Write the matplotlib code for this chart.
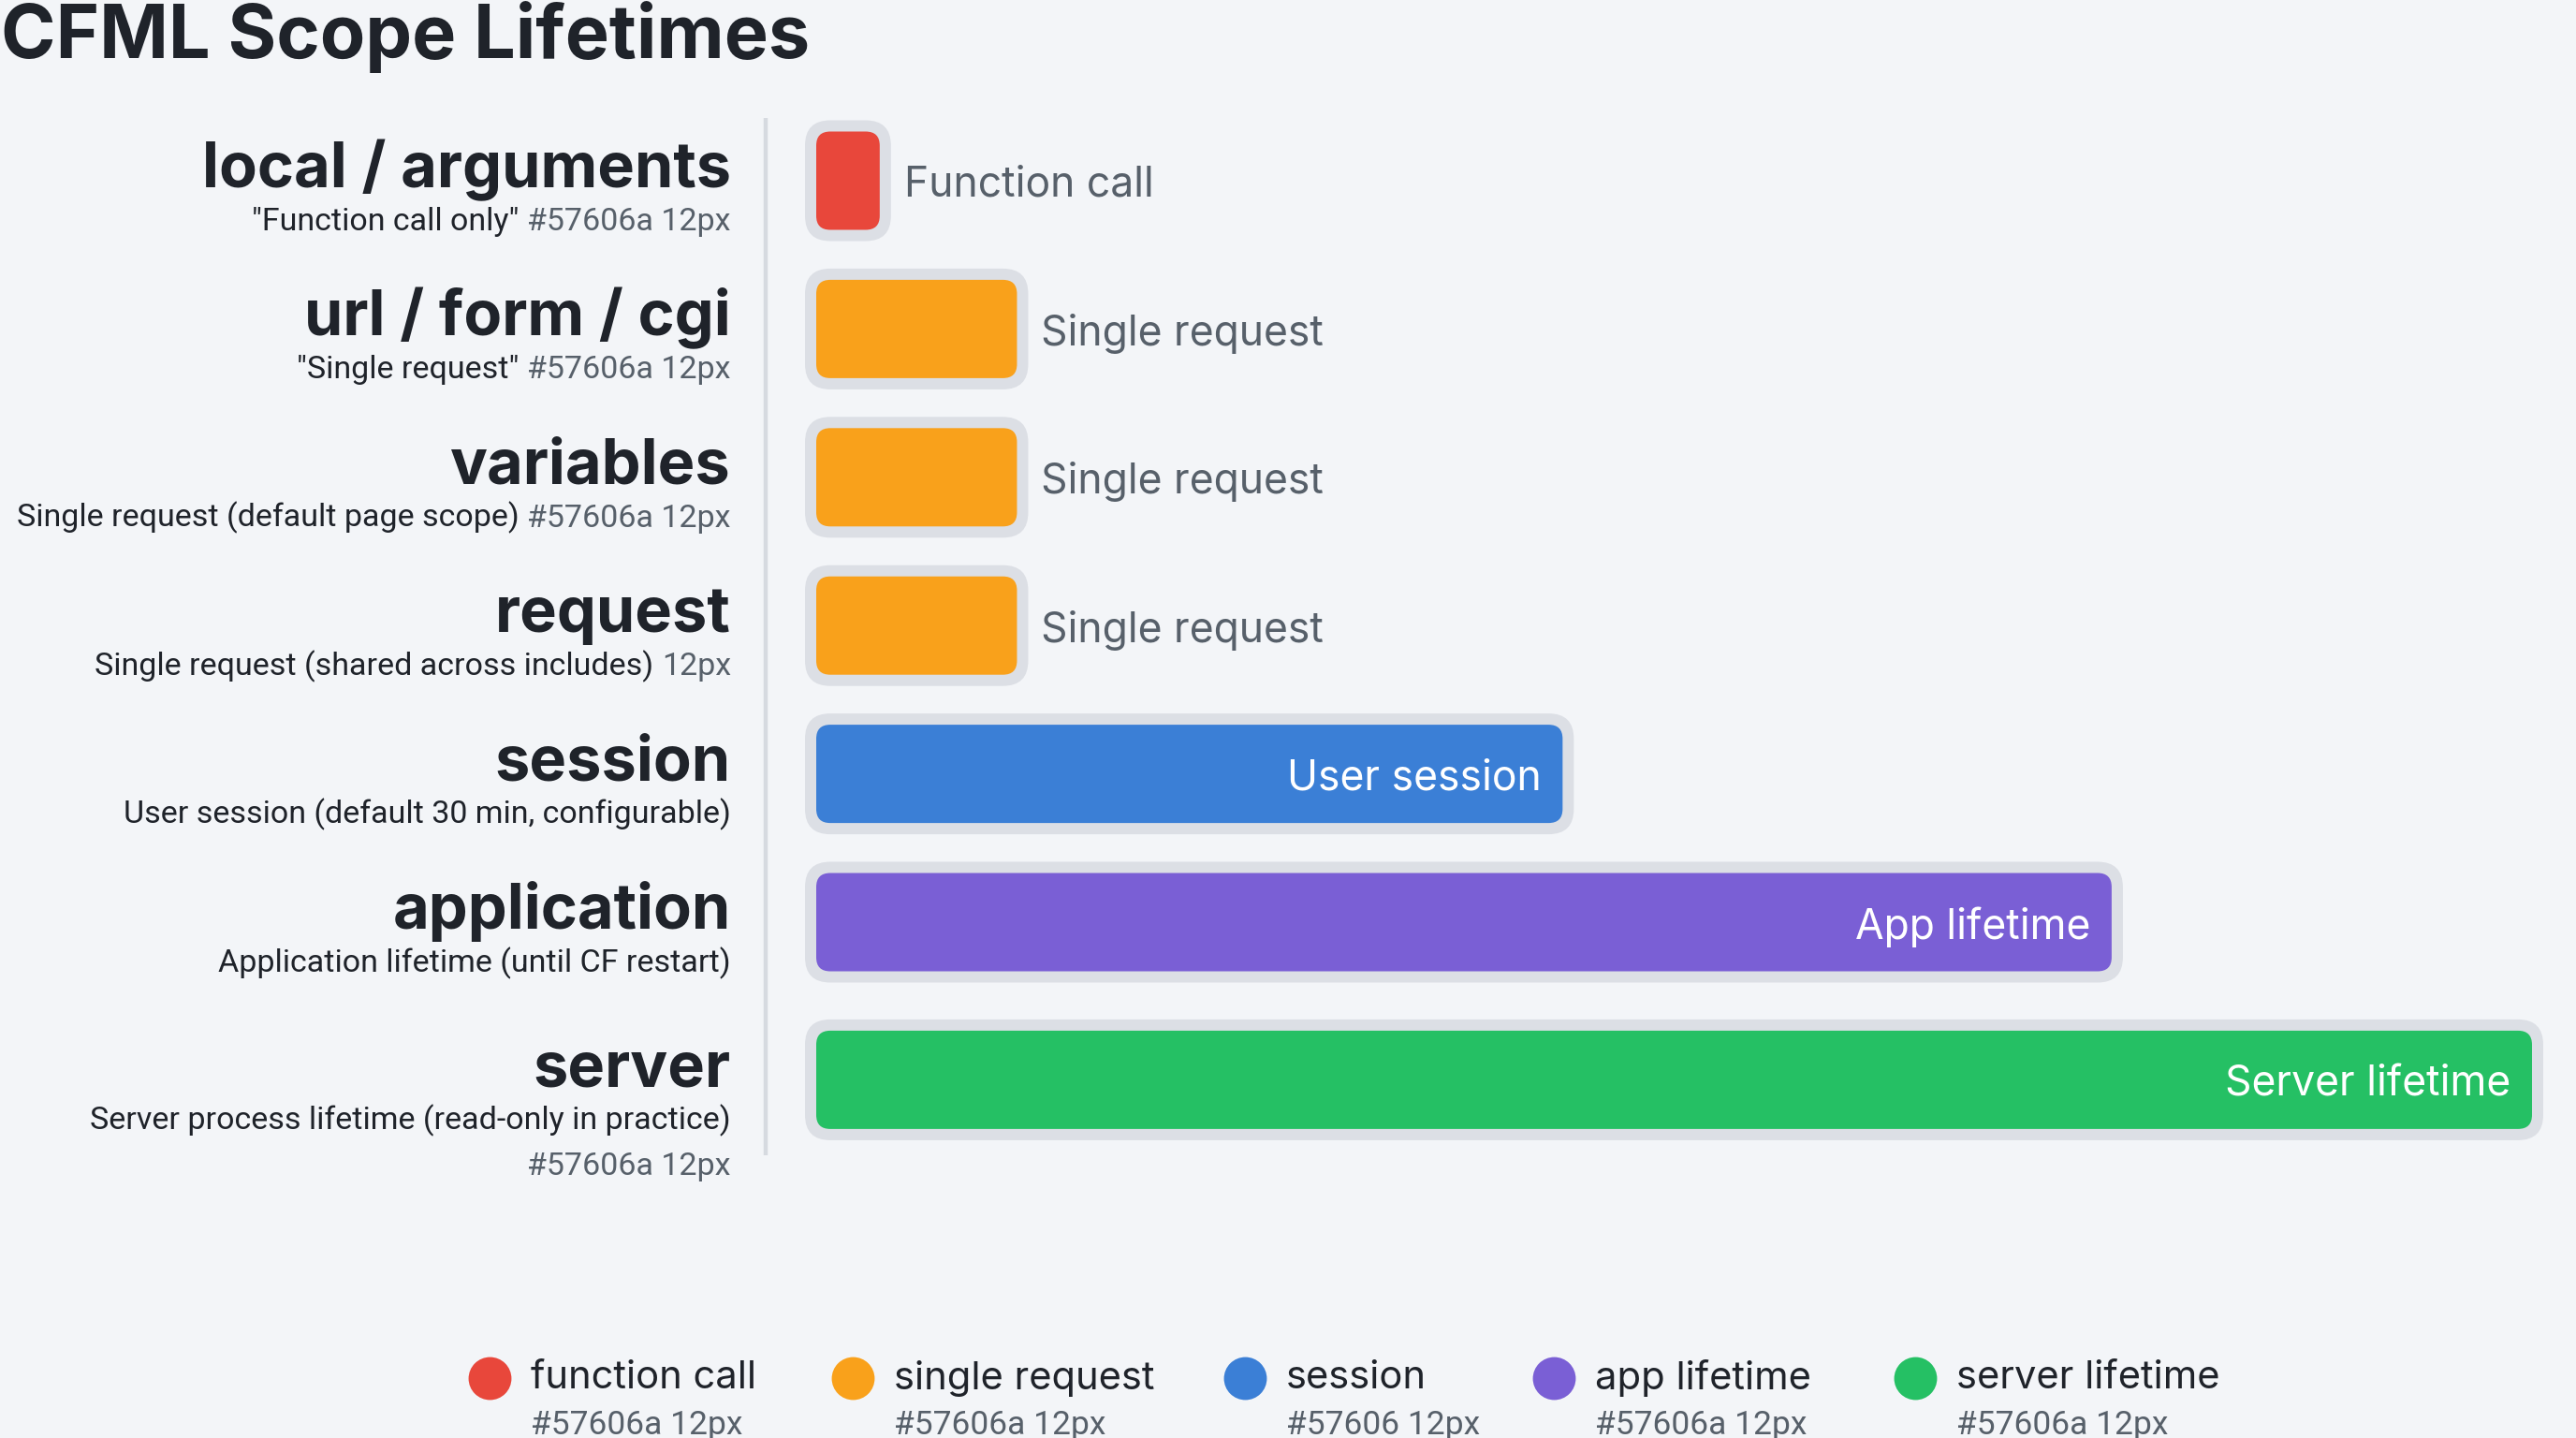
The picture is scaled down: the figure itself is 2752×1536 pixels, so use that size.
"""
CFML scope lifetimes: one rounded horizontal bar per scope, relative lifetime.
Saves to ./out.png
"""
import numpy as np
import matplotlib
matplotlib.use("Agg")
import matplotlib.pyplot as plt
from matplotlib.patches import FancyBboxPatch
from matplotlib.lines import Line2D
from matplotlib.transforms import blended_transform_factory, offset_copy

# ---- data -------------------------------------------------------------
SCOPES = ["local / arguments", "url / form / cgi", "variables", "request",
          "session", "application", "server"]
SCOPE_NOTES = ['"Function call only"', '"Single request"',
               "Single request (default page scope)",
               "Single request (shared across includes)",
               "User session (default 30 min, configurable)",
               "Application lifetime (until CF restart)",
               "Server process lifetime (read-only in practice)"]
NOTE_TAGS = ["#57606a 12px", "#57606a 12px", "#57606a 12px", "12px",
             "", "", "\n#57606a 12px"]
LIFETIME = [3.7, 11.7, 11.7, 11.7, 43.5, 75.5, 100.0]   # relative, 0-100
BAR_LABELS = ["Function call", "Single request", "Single request",
              "Single request", "User session", "App lifetime",
              "Server lifetime"]
KINDS = ["function call", "single request", "single request",
         "single request", "session", "app lifetime", "server lifetime"]

LEGEND_LABELS = ["function call", "single request", "session",
                 "app lifetime", "server lifetime"]
LEGEND_TAGS = ["#57606a 12px", "#57606a 12px", "#57606 12px",
               "#57606a 12px", "#57606a 12px"]
KIND_COLORS = {
    "function call":   "#E8473B",
    "single request":  "#F9A11B",
    "session":         "#3B7FD6",
    "app lifetime":    "#7A5FD5",
    "server lifetime": "#25C064",
}

# ---- style ------------------------------------------------------------
BG = "#F3F5F8"
BORDER = "#DCDFE5"
DARK = "#1F232A"
GRAY = "#57606a"
BOLD_FONT = ["Inter", "DejaVu Sans"]
REG_FONT = ["Inter", "DejaVu Sans"]
NARROW_FONT = ["Roboto", "DejaVu Sans"]
NOTE_SIZE = 24.5

W, H, DPI = 2752, 1536, 100
ROW_STEP = 158.4            # px between rows
BAR_H_PX = 105
PAD_PX = 12
R_IN_PX, R_OUT_PX = 15, 27


def main():
    fig = plt.figure(figsize=(W / DPI, H / DPI), dpi=DPI, facecolor=BG)

    n = len(SCOPES)
    ypos = np.arange(n, dtype=float)
    ypos[-1] += 10 / ROW_STEP          # server row sits a bit lower

    # axes: x=0 at 872px, x=100 at 2705px; row 0 centred at 193px
    top_px = 193 - 0.5 * ROW_STEP
    height_px = (ypos[-1] + 1) * ROW_STEP
    ax = fig.add_axes([872 / W, 1 - (top_px + height_px) / H,
                       (2705 - 872) / W, height_px / H])
    ax.set_xlim(0, 100)
    ax.set_ylim(ypos[-1] + 0.5, -0.5)
    ax.axis("off")

    px_x = (2705 - 872) / 100.0        # px per x unit
    px_y = ROW_STEP                    # px per y unit
    aspect = px_x / px_y
    colors = [KIND_COLORS[k] for k in KINDS]

    bars = ax.barh(ypos, LIFETIME, height=BAR_H_PX / px_y, color=colors)
    for bar, col in zip(bars, colors):
        x0, y0 = bar.get_x(), bar.get_y()
        w, h = bar.get_width(), bar.get_height()
        bar.set_visible(False)
        px, py = PAD_PX / px_x, PAD_PX / px_y
        ax.add_patch(FancyBboxPatch(
            (x0 - px, y0 - py), w + 2 * px, h + 2 * py,
            boxstyle=f"round,pad=0,rounding_size={R_OUT_PX / px_x}",
            mutation_aspect=aspect, fc=BORDER, ec="none",
            clip_on=False, zorder=1))
        ax.add_patch(FancyBboxPatch(
            (x0, y0), w, h,
            boxstyle=f"round,pad=0,rounding_size={R_IN_PX / px_x}",
            mutation_aspect=aspect, fc=col, ec="none",
            clip_on=False, zorder=2))

    # bar labels: inside (white) for long bars, outside (gray) for short
    for y, v, lab in zip(ypos, LIFETIME, BAR_LABELS):
        if v > 30:
            ax.annotate(lab, (v, y), xytext=(-23 * 0.72, -3.6),
                        textcoords="offset points", ha="right", va="center",
                        color="white", fontsize=32, family=REG_FONT, zorder=3)
        else:
            ax.annotate(lab, (v, y), xytext=(26 * 0.72, -3.6),
                        textcoords="offset points", ha="left", va="center",
                        color=GRAY, fontsize=32, family=REG_FONT, zorder=3)

    # scope names + notes on the left
    trans = blended_transform_factory(fig.transFigure, ax.transData)
    lab_x = 781 / W
    renderer = fig.canvas.get_renderer()
    for y, name, note, tag in zip(ypos, SCOPES, SCOPE_NOTES, NOTE_TAGS):
        ax.text(lab_x, y + 7 / px_y, name, transform=trans, ha="right",
                va="baseline", fontsize=48, fontweight="bold",
                family=BOLD_FONT, color=DARK)
        sub_y = y + 53 / px_y
        if tag.startswith("\n"):
            ax.text(lab_x, sub_y, note, transform=trans, ha="right",
                    va="baseline", fontsize=NOTE_SIZE, family=NARROW_FONT,
                    color=DARK)
            ax.text(lab_x, sub_y + 49 / px_y, tag.strip(), transform=trans,
                    ha="right", va="baseline", fontsize=NOTE_SIZE,
                    family=NARROW_FONT, color=GRAY)
            continue
        shift = 0
        if tag:
            t = ax.text(lab_x, sub_y, tag, transform=trans, ha="right",
                        va="baseline", fontsize=NOTE_SIZE, family=NARROW_FONT,
                        color=GRAY)
            shift = t.get_window_extent(renderer).width + 9
        ax.text(lab_x, sub_y, note,
                transform=offset_copy(trans, fig=fig, x=-shift, units="dots"),
                ha="right", va="baseline", fontsize=NOTE_SIZE,
                family=NARROW_FONT, color=DARK)

    # divider between names and bars
    fig.add_artist(Line2D([818 / W, 818 / W], [1 - 126 / H, 1 - 1234 / H],
                          color="#D6DAE0", lw=3.2, solid_capstyle="butt"))

    # title, pushed right up against the top edge as in the original
    fig.text(1 / W, 1 - 62 / H, "CFML Scope Lifetimes", ha="left",
             va="baseline", fontsize=57, fontweight="bold",
             family=BOLD_FONT, color=DARK)

    # legend row
    leg_y = 1 - 1472 / H
    for cx, lab, tag in zip([523, 911, 1330, 1660, 2046],
                            LEGEND_LABELS, LEGEND_TAGS):
        fig.add_artist(Line2D([cx / W], [leg_y], marker="o", ms=33,
                              linestyle="none", mec="none",
                              color=KIND_COLORS[lab]))
        fig.text((cx + 44) / W, leg_y, lab, ha="left", va="center",
                 fontsize=30, family=REG_FONT, color=DARK)
        fig.text((cx + 44) / W, 1 - 1506 / H, tag, ha="left", va="top",
                 fontsize=25.5, family=NARROW_FONT, color=GRAY)

    fig.savefig("out.png", dpi=DPI, facecolor=BG)
    plt.close(fig)


if __name__ == "__main__":
    main()
